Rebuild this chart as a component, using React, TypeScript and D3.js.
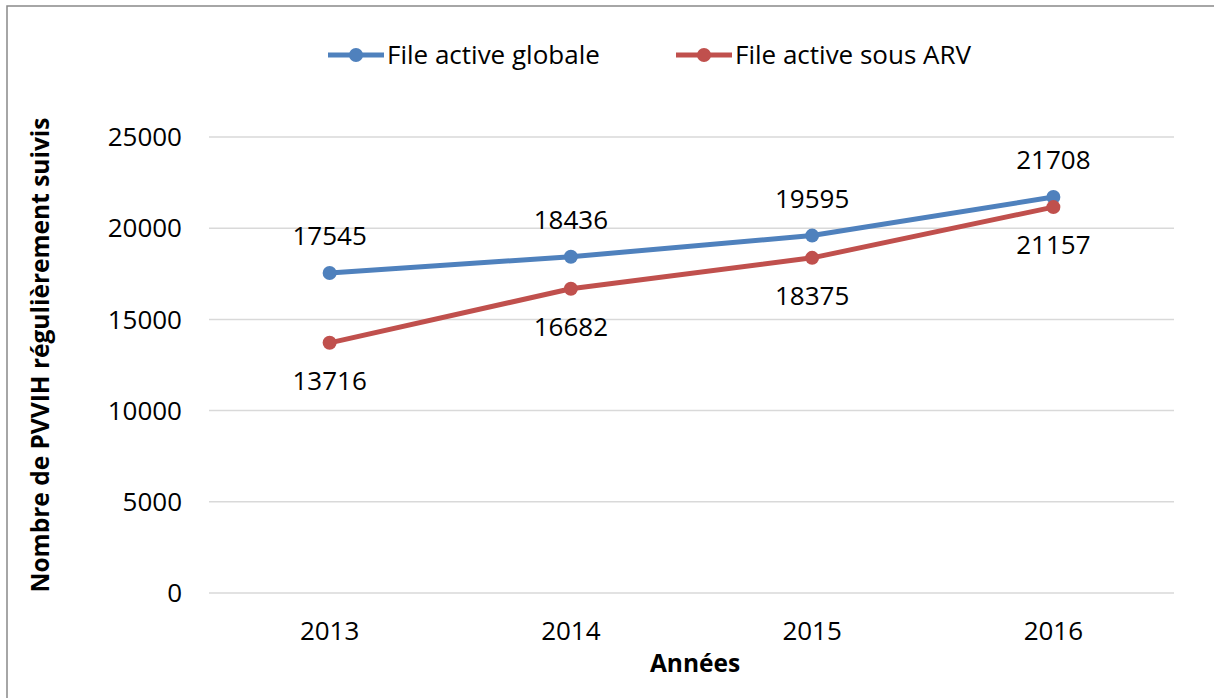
import { useEffect, useRef } from 'react'
import * as d3 from 'd3'

const W = 1214, H = 698
const M = { left: 209, right: 40, top: 137, bottom: 105 }

const years = ['2013', '2014', '2015', '2016']
const globale = [17545, 18436, 19595, 21708]
const sousArv = [13716, 16682, 18375, 21157]
const yTicks = [0, 5000, 10000, 15000, 20000, 25000]

const series = [
  { name: 'File active globale', values: globale, color: '#4F81BD', labelDy: -37, legendX: 328 },
  { name: 'File active sous ARV', values: sousArv, color: '#C0504D', labelDy: 38, legendX: 676 },
]

const FONT = "'Open Sans', 'DejaVu Sans', sans-serif"
const FS = 26

export default function App() {
  const ref = useRef<SVGSVGElement>(null)

  useEffect(() => {
    if (!ref.current) return
    const svg = d3.select(ref.current)
    svg.selectAll('*').remove()

    const x = d3.scalePoint<string>().domain(years)
      .range([M.left, W - M.right]).padding(0.5)
    const y = d3.scaleLinear().domain([0, 25000]).range([H - M.bottom, M.top])

    svg.append('rect')
      .attr('x', 7).attr('y', 6).attr('width', W).attr('height', H)
      .attr('fill', '#fff').attr('stroke', '#898989').attr('stroke-width', 1.5)

    // Gridlines
    svg.append('g').selectAll('line').data(yTicks).join('line')
      .attr('x1', M.left).attr('x2', W - M.right)
      .attr('y1', d => y(d)).attr('y2', d => y(d))
      .attr('stroke', '#D9D9D9').attr('stroke-width', 1.5)

    // Y tick labels
    svg.append('g').selectAll('text').data(yTicks).join('text')
      .attr('x', 182).attr('y', d => y(d)).attr('dy', '0.35em')
      .attr('text-anchor', 'end').attr('font-family', FONT).attr('font-size', FS)
      .attr('fill', '#000').text(d => d)

    // X tick labels
    svg.append('g').selectAll('text').data(years).join('text')
      .attr('x', d => x(d)!).attr('y', 631).attr('dy', '0.35em')
      .attr('text-anchor', 'middle').attr('font-family', FONT).attr('font-size', FS)
      .attr('fill', '#000').text(d => d)

    const line = d3.line<number>().x((_, i) => x(years[i])!).y(d => y(d))

    series.forEach(s => {
      svg.append('path').attr('d', line(s.values)!)
        .attr('fill', 'none').attr('stroke', s.color).attr('stroke-width', 5)
        .attr('stroke-linejoin', 'round')
      svg.append('g').selectAll('circle').data(s.values).join('circle')
        .attr('cx', (_, i) => x(years[i])!).attr('cy', d => y(d)).attr('r', 7)
        .attr('fill', s.color)
      svg.append('g').selectAll('text').data(s.values).join('text')
        .attr('x', (_, i) => x(years[i])!).attr('y', d => y(d) + s.labelDy).attr('dy', '0.35em')
        .attr('text-anchor', 'middle').attr('font-family', FONT).attr('font-size', FS)
        .attr('fill', '#000').text(d => d)

      // Legend
      const lg = svg.append('g').attr('transform', `translate(${s.legendX},55)`)
      lg.append('line').attr('x1', 0).attr('x2', 56).attr('y1', 0).attr('y2', 0)
        .attr('stroke', s.color).attr('stroke-width', 5)
      lg.append('circle').attr('cx', 28).attr('cy', 0).attr('r', 7).attr('fill', s.color)
      lg.append('text').attr('x', 59).attr('y', 0).attr('dy', '0.35em')
        .attr('font-family', FONT).attr('font-size', FS).attr('fill', '#000').text(s.name)
    })

    // Axis titles
    svg.append('text')
      .attr('transform', `translate(40,355) rotate(-90)`).attr('dy', '0.35em')
      .attr('text-anchor', 'middle').attr('font-family', FONT).attr('font-size', 24.5)
      .attr('font-weight', 700).attr('fill', '#000')
      .text('Nombre de PVVIH régulièrement suivis')
    svg.append('text')
      .attr('x', 695).attr('y', 663).attr('dy', '0.35em')
      .attr('text-anchor', 'middle').attr('font-family', FONT).attr('font-size', 24.5)
      .attr('font-weight', 700).attr('fill', '#000').text('Années')
  }, [])

  return <svg ref={ref} width={W} height={H} style={{ position: 'absolute', left: 0, top: 0 }} />
}
